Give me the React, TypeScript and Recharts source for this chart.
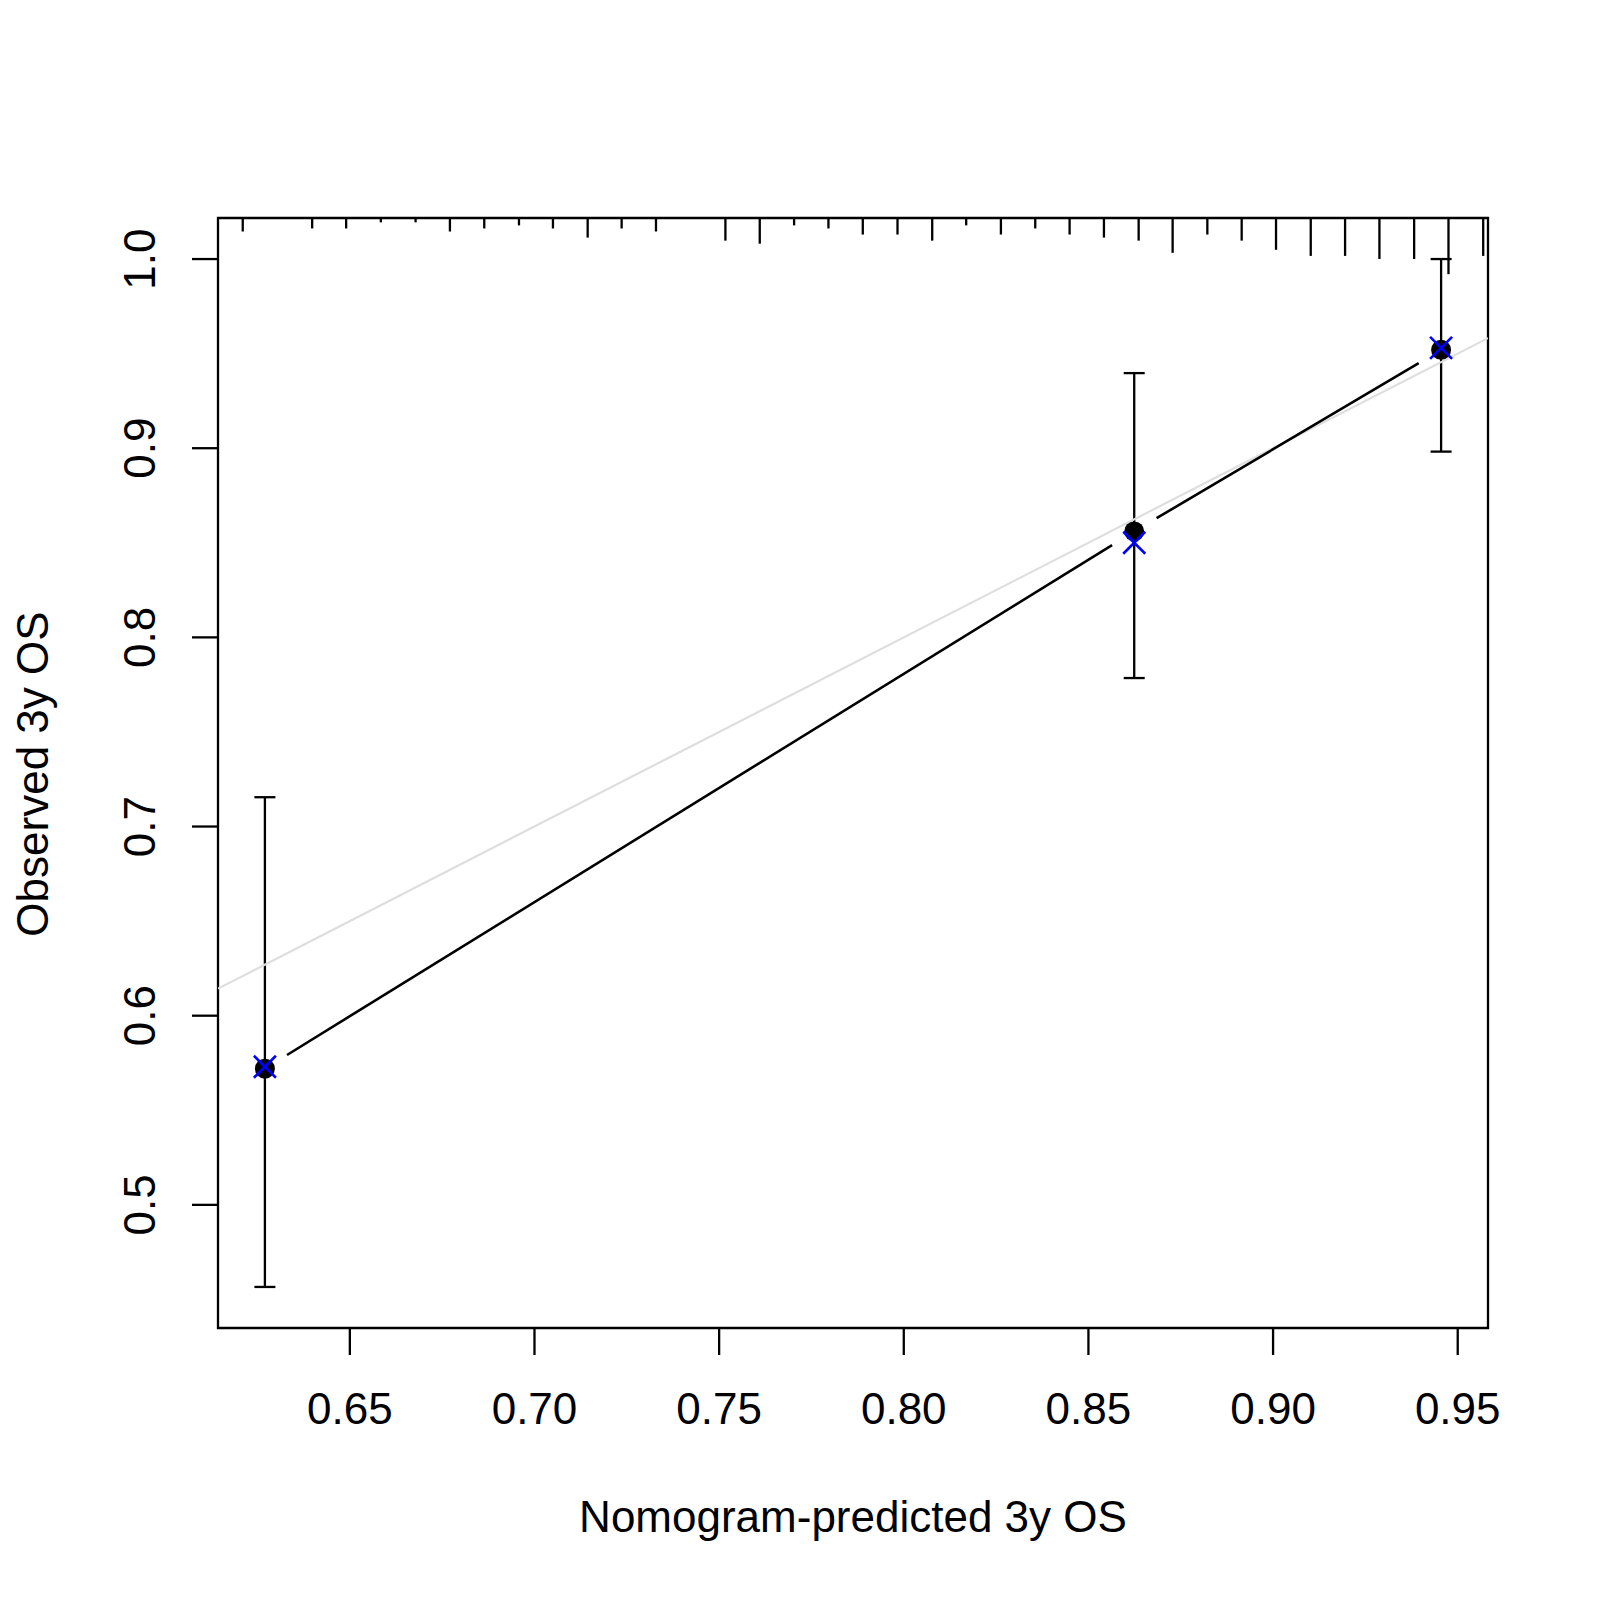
import React from "react";
import {
  ComposedChart,
  XAxis,
  YAxis,
  Scatter,
  ErrorBar,
  ReferenceArea,
} from "recharts";

// ---- data ----
const predicted = [0.627, 0.8624, 0.9455];
const observed = [0.572, 0.856, 0.952];
const observedLower = [0.4566, 0.7785, 0.8982];
const observedUpper = [0.7155, 0.9397, 1.0];
const biasCorrected = [0.573, 0.85, 0.953];

const xTicks = [0.65, 0.7, 0.75, 0.8, 0.85, 0.9, 0.95];
const yTicks = [0.5, 0.6, 0.7, 0.8, 0.9, 1.0];
const xDomain = [0.6143, 0.9582];
const yDomain = [0.4349, 1.0217];

// distribution of predictions (rug at top)
const rugX = [
  0.621, 0.6398, 0.649, 0.6584, 0.6678, 0.6771, 0.6864, 0.6958, 0.705, 0.7144,
  0.7236, 0.7329, 0.7517, 0.761, 0.7703, 0.7796, 0.7889, 0.7983, 0.8077, 0.8169,
  0.8263, 0.8356, 0.8449, 0.8542, 0.8636, 0.8728, 0.8822, 0.8915, 0.9008, 0.9102,
  0.9195, 0.9288, 0.9382, 0.9475, 0.9569,
];
const rugCount = [
  4, 3, 3, 1, 1, 4, 3, 2, 3, 6, 3, 4, 7, 8, 2, 3, 5, 5, 7, 2, 5, 3, 5, 6, 7, 11, 5,
  7, 10, 12, 12, 13, 13, 18, 12,
];

const xLabel = "Nomogram-predicted 3y OS";
const yLabel = "Observed 3y OS";

// ---- derived tables ----
const calib = predicted.map((x, i) => ({
  x,
  y: observed[i],
  err: [observed[i] - observedLower[i], observedUpper[i] - observed[i]],
}));
const corrected = predicted.map((x, i) => ({ x, y: biasCorrected[i] }));
const rug = rugX.map((x, i) => ({ x, y: yDomain[1], n: rugCount[i] }));
const ideal = [
  { x: xDomain[0], y: xDomain[0] },
  { x: xDomain[1], y: xDomain[1] },
];

const FONT = "'Liberation Sans', Arial, Helvetica, sans-serif";
const FS = 44;
const LW = 2.3;
const DLW = 2.6;

const XTick = (props: any) => {
  const { x, y, payload } = props;
  return (
    <text x={x} y={y + 69} textAnchor="middle" fontFamily={FONT} fontSize={FS} fill="#000">
      {Number(payload.value).toFixed(2)}
    </text>
  );
};

const YTick = (props: any) => {
  const { x, y, payload } = props;
  const bx = x - 37;
  return (
    <text
      x={bx}
      y={y}
      transform={`rotate(-90, ${bx}, ${y})`}
      textAnchor="middle"
      fontFamily={FONT}
      fontSize={FS}
      fill="#000"
    >
      {Number(payload.value).toFixed(1)}
    </text>
  );
};

const XTitle = (props: any) => {
  const vb = props.viewBox || { x: 210, y: 1320, width: 1270, height: 200 };
  return (
    <text x={vb.x + vb.width / 2} y={vb.y + 204} textAnchor="middle" fontFamily={FONT} fontSize={FS} fill="#000">
      {xLabel}
    </text>
  );
};

const YTitle = (props: any) => {
  const vb = props.viewBox || { x: 0, y: 210, width: 210, height: 1110 };
  const cx = 40;
  const cy = vb.y + vb.height / 2 + 1;
  return (
    <text
      x={cx}
      y={cy}
      transform={`rotate(-90, ${cx}, ${cy})`}
      textAnchor="middle"
      fontFamily={FONT}
      fontSize={FS}
      fill="#000"
    >
      {yLabel}
    </text>
  );
};

// connecting line with gaps around each point (R type = "b")
const GappedLine = (props: any) => {
  const pts = (props.points || []).filter((p: any) => p && p.x != null && p.y != null);
  const gap = 26;
  const segs: any[] = [];
  for (let i = 0; i < pts.length - 1; i++) {
    const p = pts[i];
    const q = pts[i + 1];
    const dx = q.x - p.x;
    const dy = q.y - p.y;
    const L = Math.sqrt(dx * dx + dy * dy);
    if (L <= 2 * gap) continue;
    const ux = dx / L;
    const uy = dy / L;
    segs.push(
      <line
        key={i}
        x1={p.x + ux * gap}
        y1={p.y + uy * gap}
        x2={q.x - ux * gap}
        y2={q.y - uy * gap}
        stroke="#000"
        strokeWidth={DLW}
      />
    );
  }
  return <g>{segs}</g>;
};

const EmptyShape = () => <g />;

const DotShape = (p: any) => <circle cx={p.cx} cy={p.cy} r={10} fill="#000" stroke="none" />;

const XShape = (p: any) => {
  const a = 11;
  return (
    <g>
      <line x1={p.cx - a} y1={p.cy - a} x2={p.cx + a} y2={p.cy + a} stroke="#0000ff" strokeWidth={DLW} />
      <line x1={p.cx - a} y1={p.cy + a} x2={p.cx + a} y2={p.cy - a} stroke="#0000ff" strokeWidth={DLW} />
    </g>
  );
};

const RugShape = (p: any) => {
  const len = 3.05 * p.payload.n + 1.3;
  return <line x1={p.cx} y1={p.cy} x2={p.cx} y2={p.cy + len} stroke="#000" strokeWidth={LW} />;
};

export default function App() {
  return (
    <div style={{ width: 1584, height: 1584, fontFamily: FONT, background: "#fff" }}>
      <ComposedChart
        width={1584}
        height={1584}
        margin={{ top: 210, right: 104, bottom: 64, left: 0 }}
      >
        <XAxis
          type="number"
          dataKey="x"
          domain={xDomain}
          ticks={xTicks}
          interval={0}
          allowDataOverflow
          tickSize={27}
          tickMargin={0}
          axisLine={false}
          tickLine={{ stroke: "#000", strokeWidth: LW }}
          tick={<XTick />}
          height={200}
          label={<XTitle />}
        />
        <YAxis
          type="number"
          domain={yDomain}
          ticks={yTicks}
          interval={0}
          allowDataOverflow
          tickSize={26}
          tickMargin={0}
          axisLine={false}
          tickLine={{ stroke: "#000", strokeWidth: LW }}
          tick={<YTick />}
          width={210}
          label={<YTitle />}
        />
        <Scatter
          data={ideal}
          dataKey="y"
          line={{ stroke: "#dedede", strokeWidth: 2.2 }}
          lineType="joint"
          shape={EmptyShape}
          isAnimationActive={false}
        />
        <Scatter data={rug} dataKey="y" shape={RugShape} isAnimationActive={false} />
        <Scatter
          data={calib}
          dataKey="y"
          line={GappedLine}
          lineType="joint"
          shape={DotShape}
          isAnimationActive={false}
        >
          <ErrorBar dataKey="err" direction="y" width={10.5} stroke="#000" strokeWidth={LW} />
        </Scatter>
        <Scatter data={corrected} dataKey="y" shape={XShape} isAnimationActive={false} />
        <ReferenceArea
          x1={xDomain[0]}
          x2={xDomain[1]}
          y1={yDomain[0]}
          y2={yDomain[1]}
          fill="none"
          fillOpacity={0}
          stroke="#000"
          strokeWidth={LW}
          ifOverflow="visible"
        />
      </ComposedChart>
    </div>
  );
}
